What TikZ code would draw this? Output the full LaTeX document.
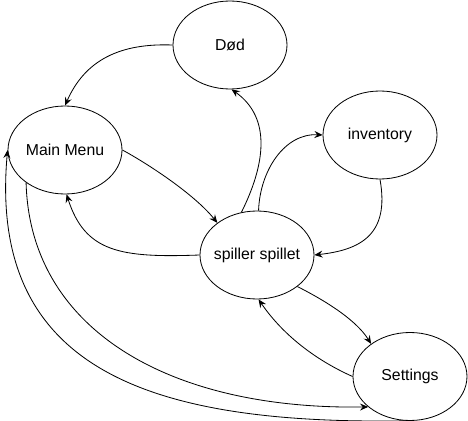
\documentclass[tikz,border=0pt]{standalone}
\usepackage{fontspec}
\setmainfont{Liberation Sans}
\usetikzlibrary{arrows.meta, shapes.geometric}

\begin{document}
\begin{tikzpicture}[x=0.03cm,y=-0.03cm,
  state/.style={draw,ellipse,line width=0.7pt,minimum width=3.42cm,minimum height=2.64cm,inner xsep=-10pt,font=\fontsize{13.5}{16}\selectfont},
  link/.style={line width=0.7pt,-{Stealth[length=7pt,width=6pt,inset=2.5pt]}}]
\useasboundingbox (0,0) rectangle (468,421);
%states
\node[state] (dod) at (230,45) {Død};
\node[state] (menu) at (65,150) {Main Menu};
\node[state] (inv) at (380,135) {inventory};
\node[state] (spill) at (257,255) {spiller spillet};
\node[state] (settings) at (410,376.5) {Settings};
%arrows out of the game
\draw[link] (spill.110) .. controls (265,165) and (272,118) .. (dod.-88);
\draw[link] (spill.88) .. controls (260,170) and (285,133) .. (inv.west);
\draw[link] (spill.west) .. controls (120,258) and (85,252) .. (menu.-88);
\draw[link] (spill.-38) .. controls (320,298) and (355,318) .. (settings.140);
%arrows into the game
\draw[link] (inv.south) .. controls (390,235) and (360,250) .. (spill.east);
\draw[link] (menu.east) .. controls (150,165) and (195,195) .. (spill.141);
\draw[link] (settings.west) .. controls (320,362) and (285,338) .. (spill.-88);
%menu and settings
\draw[link] (dod.west) .. controls (120,43) and (85,60) .. (menu.north);
\draw[link] (menu.220) .. controls (30,330) and (170,410) .. (settings.216);
\draw[link] (settings.-95) .. controls (150,425) and (-12,370) .. (menu.west);
\end{tikzpicture}
\end{document}
